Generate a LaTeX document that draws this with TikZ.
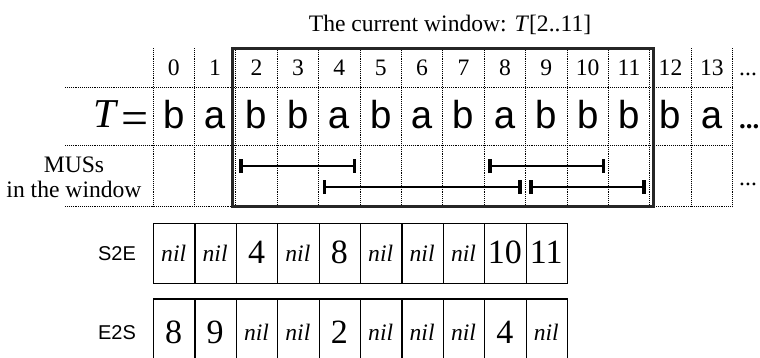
\documentclass[tikz,border=0pt]{standalone}
\usepackage{fontspec}
\setmainfont{Liberation Serif}
\setsansfont{Liberation Sans}
\setmonofont{Liberation Mono}
\usetikzlibrary{arrows.meta}
\begin{document}
\begin{tikzpicture}[x=1pt,y=-1pt,
  gridline/.style={densely dotted, line width=0.9pt},
  windowline/.style={line width=3pt, black!85},
  txt/.style={inner sep=0pt, font=\fontsize{23.6}{26}\selectfont},
  chr/.style={inner sep=0pt, font=\fontsize{39}{42}\selectfont\ttfamily},
  cellbox/.style={draw, line width=1.2pt, minimum width=41.4pt, minimum height=60pt, inner sep=0pt, anchor=north west},
  nilt/.style={inner sep=0pt, font=\fontsize{23.6}{26}\selectfont\itshape, anchor=base},
  numt/.style={inner sep=0pt, font=\fontsize{34}{36}\selectfont, anchor=base},
  arrlabel/.style={inner sep=0pt, font=\fontsize{20}{22}\selectfont\sffamily, anchor=base},
  musbar/.style={line width=2.3pt, {Bar[width=14pt,line width'=3.5pt]}-{Bar[width=14pt,line width'=3.5pt]}}
]
\useasboundingbox (0,0) rectangle (760,357);

% title
\node[txt, anchor=base] (title) at (450,31) {The current window: \textit{T}[2..11]};

% grid
\foreach \k in {0,...,14} \draw[gridline] ({153+41.4*\k},48) -- ({153+41.4*\k},206);
\foreach \y in {87,145,206} \draw[gridline] (65,\y) -- (732.6,\y);

% index row
\foreach \i in {0,...,13} \node[txt, anchor=base] (i\i) at ({153+41.4*(\i+0.5)},75) {\i};
\node[txt, anchor=base west] (idots) at (739,75) {...};

% T row
\node[inner sep=0pt, anchor=base east, font=\fontsize{41}{44}\selectfont] (Tlab) at (149,127.5) {\textit{T}\hspace{3pt}\raisebox{-7pt}{\fontsize{48}{50}\selectfont =}};
\foreach \c [count=\i from 0] in {b,a,b,b,a,b,a,b,a,b,b,b,b,a}
  \node[chr, anchor=base] (t\i) at ({153+41.4*(\i+0.5)},128) {\c};
\node[inner sep=0pt, anchor=base west, font=\fontsize{27}{30}\selectfont\bfseries] (tdots) at (739,128) {...};

% MUSs row
\node[txt, anchor=base] (mus1) at (74,172) {MUSs};
\node[txt, anchor=base] (mus2) at (74,197) {in the window};
\node[txt, anchor=base west] (mdots) at (739,185) {...};

\coordinate (m1a) at (239,166);   \coordinate (m1b) at (356.2,166);
\coordinate (m2a) at (488.3,166); \coordinate (m2b) at (605,166);
\coordinate (m3a) at (322.5,187); \coordinate (m3b) at (521.6,187);
\coordinate (m4a) at (529.4,187); \coordinate (m4b) at (645.5,187);
\draw[musbar] (m1a) -- (m1b);
\draw[musbar] (m2a) -- (m2b);
\draw[musbar] (m3a) -- (m3b);
\draw[musbar] (m4a) -- (m4b);

% window
\draw[windowline] (232,48) rectangle (653,206);

% S2E array
\node[arrlabel] (s2e) at (117,260) {S2E};
\foreach \v [count=\i from 0] in {-1,-1,4,-1,8,-1,-1,-1,10,11} {
  \node[cellbox] (sb\i) at ({153+41.4*\i},222.7) {};
  \ifnum\v<0
    \node[nilt] (st\i) at ({153+41.4*(\i+0.5)},261) {nil};
  \else
    \node[numt] (st\i) at ({153+41.4*(\i+0.5)},263.5) {\v};
  \fi
}

% E2S array
\node[arrlabel] (e2s) at (117,339) {E2S};
\foreach \v [count=\i from 0] in {8,9,-1,-1,2,-1,-1,-1,4,-1} {
  \node[cellbox] (eb\i) at ({153+41.4*\i},298.3) {};
  \ifnum\v<0
    \node[nilt] (et\i) at ({153+41.4*(\i+0.5)},340) {nil};
  \else
    \node[numt] (et\i) at ({153+41.4*(\i+0.5)},343) {\v};
  \fi
}
\end{tikzpicture}
\end{document}
